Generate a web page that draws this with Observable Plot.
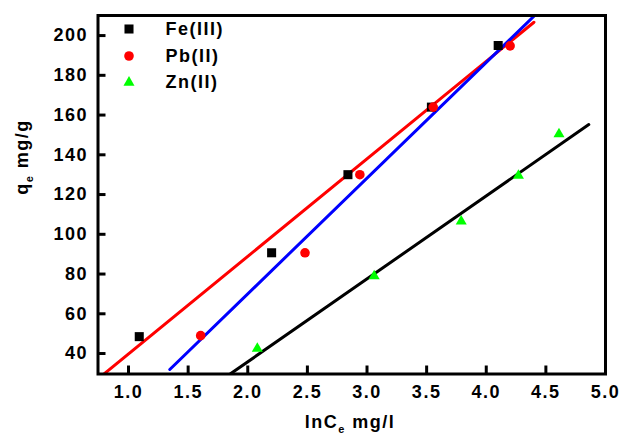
<!DOCTYPE html>
<html>
<head>
<meta charset="utf-8">
<script src="https://cdn.jsdelivr.net/npm/d3@7"></script>
<script src="https://cdn.jsdelivr.net/npm/@observablehq/plot@0.6"></script>
<style>
  html, body { margin: 0; padding: 0; background: #fff; overflow: hidden; }
  #chart { width: 620px; height: 436px; }
</style>
</head>
<body>
<div id="chart"></div>
<script>
// ---- data ----
const seriesNames = ["Fe(III)", "Pb(II)", "Zn(II)"];
const seriesColors = ["#000000", "#ff0000", "#00ff00"];
const seriesSymbols = ["square", "circle", "triangle"];

const feX = [1.09, 2.20, 2.84, 3.54, 4.10];
const feY = [48.5, 90.7, 130, 164, 195];
const pbX = [1.605, 2.48, 2.94, 3.555, 4.20];
const pbY = [49, 90.7, 130, 164, 194.8];
const znX = [2.08, 3.06, 3.79, 4.27, 4.61];
const znY = [42.5, 79, 106.5, 129.5, 150.4];

// fitted lines (end points)
const fitColors = ["#ff0000", "#0000ff", "#000000"];
const redFitX = [0.79, 4.40],  redFitY = [29.5, 206.7];
const blueFitX = [1.346, 4.43], blueFitY = [31.95, 211.5];
const blackFitX = [1.855, 4.86], blackFitY = [29.8, 155.2];

const xTicks = [1.0, 1.5, 2.0, 2.5, 3.0, 3.5, 4.0, 4.5, 5.0];
const yTicks = [40, 60, 80, 100, 120, 140, 160, 180, 200];
const xDomain = [0.744, 5.0];
const yDomain = [29.7, 210.1];

// ---- build ----
const W = 620, H = 436;
const mL = 97.5, mR = 15, mT = 15, mB = 62.5;
const frameW = W - mL - mR, frameH = H - mT - mB;
const font = "'Liberation Sans', Arial, Helvetica, sans-serif";

const pts = (xs, ys, s) => xs.map((x, i) => ({x, y: ys[i], s}));
const points = [
  ...pts(feX, feY, seriesNames[0]),
  ...pts(pbX, pbY, seriesNames[1]),
  ...pts(znX, znY, seriesNames[2])
];
const fits = [
  pts(redFitX, redFitY, "red"),
  pts(blueFitX, blueFitY, "blue"),
  pts(blackFitX, blackFitY, "black")
];
const symSize = {"square": 5.1, "circle": 4.8, "triangle": 4.1};
const legendDy = [13.5, 40.5, 67];

const marks = [];
// fitted lines
fits.forEach((f, i) => {
  marks.push(Plot.line(f, {x: "x", y: "y", stroke: fitColors[i], strokeWidth: 3, clip: true}));
});
// data points
seriesNames.forEach((name, i) => {
  marks.push(Plot.dot(points.filter(d => d.s === name), {
    x: "x", y: "y", symbol: () => seriesSymbols[i], fill: seriesColors[i],
    stroke: "none", r: symSize[seriesSymbols[i]]
  }));
});
// legend (inside frame, top-left)
seriesNames.forEach((name, i) => {
  marks.push(Plot.dot([name], {
    frameAnchor: "top-left", dx: 31, dy: legendDy[i],
    symbol: () => seriesSymbols[i], fill: seriesColors[i], stroke: "none",
    r: symSize[seriesSymbols[i]]
  }));
  marks.push(Plot.text([name], {
    text: d => d, frameAnchor: "top-left", dx: 67.5, dy: legendDy[i],
    textAnchor: "start", lineAnchor: "middle", fontSize: 18, fontWeight: "bold", fill: "#000"
  }));
});
// inward ticks
marks.push(Plot.tickX(xTicks, {x: d => d, insetTop: frameH - 8, stroke: "#000", strokeWidth: 3}));
marks.push(Plot.tickY(yTicks, {y: d => d, insetRight: frameW - 8, stroke: "#000", strokeWidth: 3}));
// axes (labels only)
marks.push(Plot.axisX(xTicks, {tickSize: 0, tickPadding: 11.5, tickFormat: d3.format(".1f"), label: null, fontSize: 18, fontWeight: "bold"}));
marks.push(Plot.axisY(yTicks, {tickSize: 0, tickPadding: 10, tickFormat: d3.format("d"), label: null, fontSize: 18, fontWeight: "bold"}));
marks.push(Plot.frame({stroke: "#000", strokeWidth: 3}));

const svg = Plot.plot({
  width: W, height: H,
  marginLeft: mL, marginRight: mR, marginTop: mT, marginBottom: mB,
  x: {domain: xDomain},
  y: {domain: yDomain},
  style: {fontFamily: font, fontSize: "18px", fontWeight: "bold", letterSpacing: "1.5px", color: "#000", background: "#fff", overflow: "visible"},
  marks
});

// axis titles with subscripts
const s = d3.select(svg);
const xt = s.append("text")
  .attr("x", 350).attr("y", 428)
  .attr("text-anchor", "middle")
  .attr("font-family", font).attr("font-size", 18).attr("font-weight", "bold").attr("fill", "#000");
xt.append("tspan").text("lnC");
xt.append("tspan").attr("font-size", 11).attr("dy", 5).text("e");
xt.append("tspan").attr("dy", -5).text(" mg/l");

const yt = s.append("text")
  .attr("transform", "translate(28,157) rotate(-90)")
  .attr("text-anchor", "middle")
  .attr("font-family", font).attr("font-size", 18).attr("font-weight", "bold").attr("fill", "#000");
yt.append("tspan").text("q");
yt.append("tspan").attr("font-size", 11).attr("dy", 5).text("e");
yt.append("tspan").attr("dy", -5).text(" mg/g");

document.getElementById("chart").appendChild(svg);
</script>
</body>
</html>
